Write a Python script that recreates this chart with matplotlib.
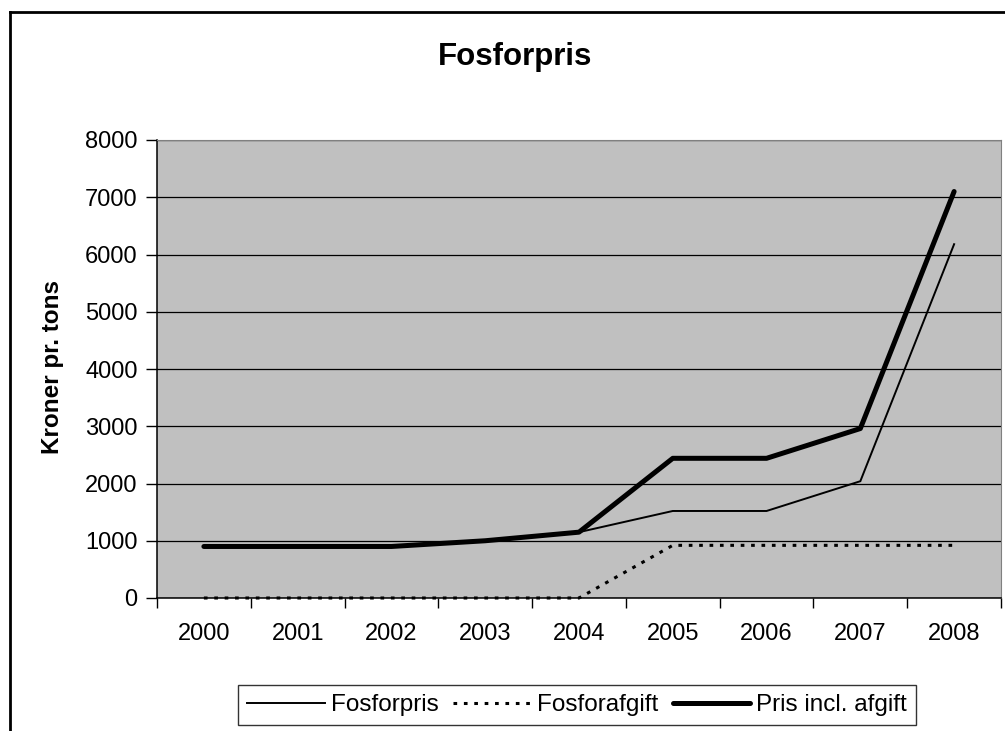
"""
plot.py — Fosforpris line chart (Excel-style) rendered with matplotlib.
"""

import matplotlib

matplotlib.use("Agg")

import matplotlib.pyplot as plt  # noqa: E402
from matplotlib.lines import Line2D  # noqa: E402

plt.rcParams["font.family"] = ["Liberation Sans", "DejaVu Sans"]

# data
years = ["2000", "2001", "2002", "2003", "2004", "2005", "2006", "2007", "2008"]
fosforpris = [900, 900, 900, 1000, 1150, 1520, 1520, 2040, 6180]
fosforafgift = [0, 0, 0, 0, 0, 920, 920, 920, 920]
pris_incl = [900, 900, 900, 1000, 1150, 2440, 2440, 2960, 7100]

PLOT_BG = "#c0c0c0"
TEXT = "#000000"

W, H = 1005, 731
fig = plt.figure(figsize=(W / 100, H / 100), dpi=100, facecolor="white")
ax = fig.add_axes([157 / W, 1 - 598 / H, (1001 - 157) / W, (598 - 140) / H])
ax.set_facecolor(PLOT_BG)

xs = list(range(len(years)))
l1, = ax.plot(xs, fosforpris, color="black", linewidth=1.4,
              solid_joinstyle="miter", label="Fosforpris")
l2, = ax.plot(xs, fosforafgift, color="black", linewidth=2.2,
              linestyle=(0, (1.2, 2.2)), label="Fosforafgift", clip_on=False,
              zorder=3)
l3, = ax.plot(xs, pris_incl, color="black", linewidth=3.6,
              solid_capstyle="round", label="Pris incl. afgift")

ax.set_xlim(-0.5, len(years) - 0.5)
ax.set_ylim(0, 8000)
ax.set_yticks(range(0, 8001, 1000))
ax.yaxis.grid(True, color="#000000", linewidth=0.9)
ax.set_axisbelow(True)

# categories centred between tick marks
ax.set_xticks(xs)
ax.set_xticklabels(years)
ax.set_xticks([x - 0.5 for x in xs] + [xs[-1] + 0.5], minor=True)
ax.tick_params(axis="x", which="major", length=0, pad=18,
               labelsize=17, colors=TEXT)
ax.tick_params(axis="x", which="minor", length=7, width=1, direction="out")
ax.tick_params(axis="y", length=8, width=1, direction="out", pad=6,
               labelsize=17, colors=TEXT)

ax.spines["left"].set_color("black")
ax.spines["bottom"].set_color("black")
ax.spines["left"].set_linewidth(1.1)
ax.spines["bottom"].set_linewidth(1.1)
ax.spines["top"].set_color("#808080")
ax.spines["right"].set_color("#808080")

fig.text(515 / W, 1 - 57 / H, "Fosforpris", ha="center", va="center",
         fontsize=22.5, fontweight="bold", color=TEXT)
fig.text(53 / W, 1 - 367 / H, "Kroner pr. tons", ha="center", va="center",
         rotation=90, fontsize=17.5, fontweight="bold", color=TEXT)

leg = fig.legend(handles=[l1, l2, l3], loc="center",
                 bbox_to_anchor=(577 / W, 1 - 705 / H), ncol=3,
                 fontsize=17.5, frameon=True, fancybox=False,
                 edgecolor="black", handlelength=3.2, handletextpad=0.25,
                 columnspacing=0.6, borderpad=0.38, borderaxespad=0)
leg.get_frame().set_linewidth(1.0)

# outer chart frame (runs off the right and bottom edge)
fig.add_artist(Line2D([10 / W, 10 / W], [0, 1 - 12 / H],
                      transform=fig.transFigure, color="black", linewidth=2))
fig.add_artist(Line2D([10 / W, 1], [1 - 12 / H, 1 - 12 / H],
                      transform=fig.transFigure, color="black", linewidth=2))

fig.savefig("out.png", dpi=100, facecolor="white")
plt.close(fig)
